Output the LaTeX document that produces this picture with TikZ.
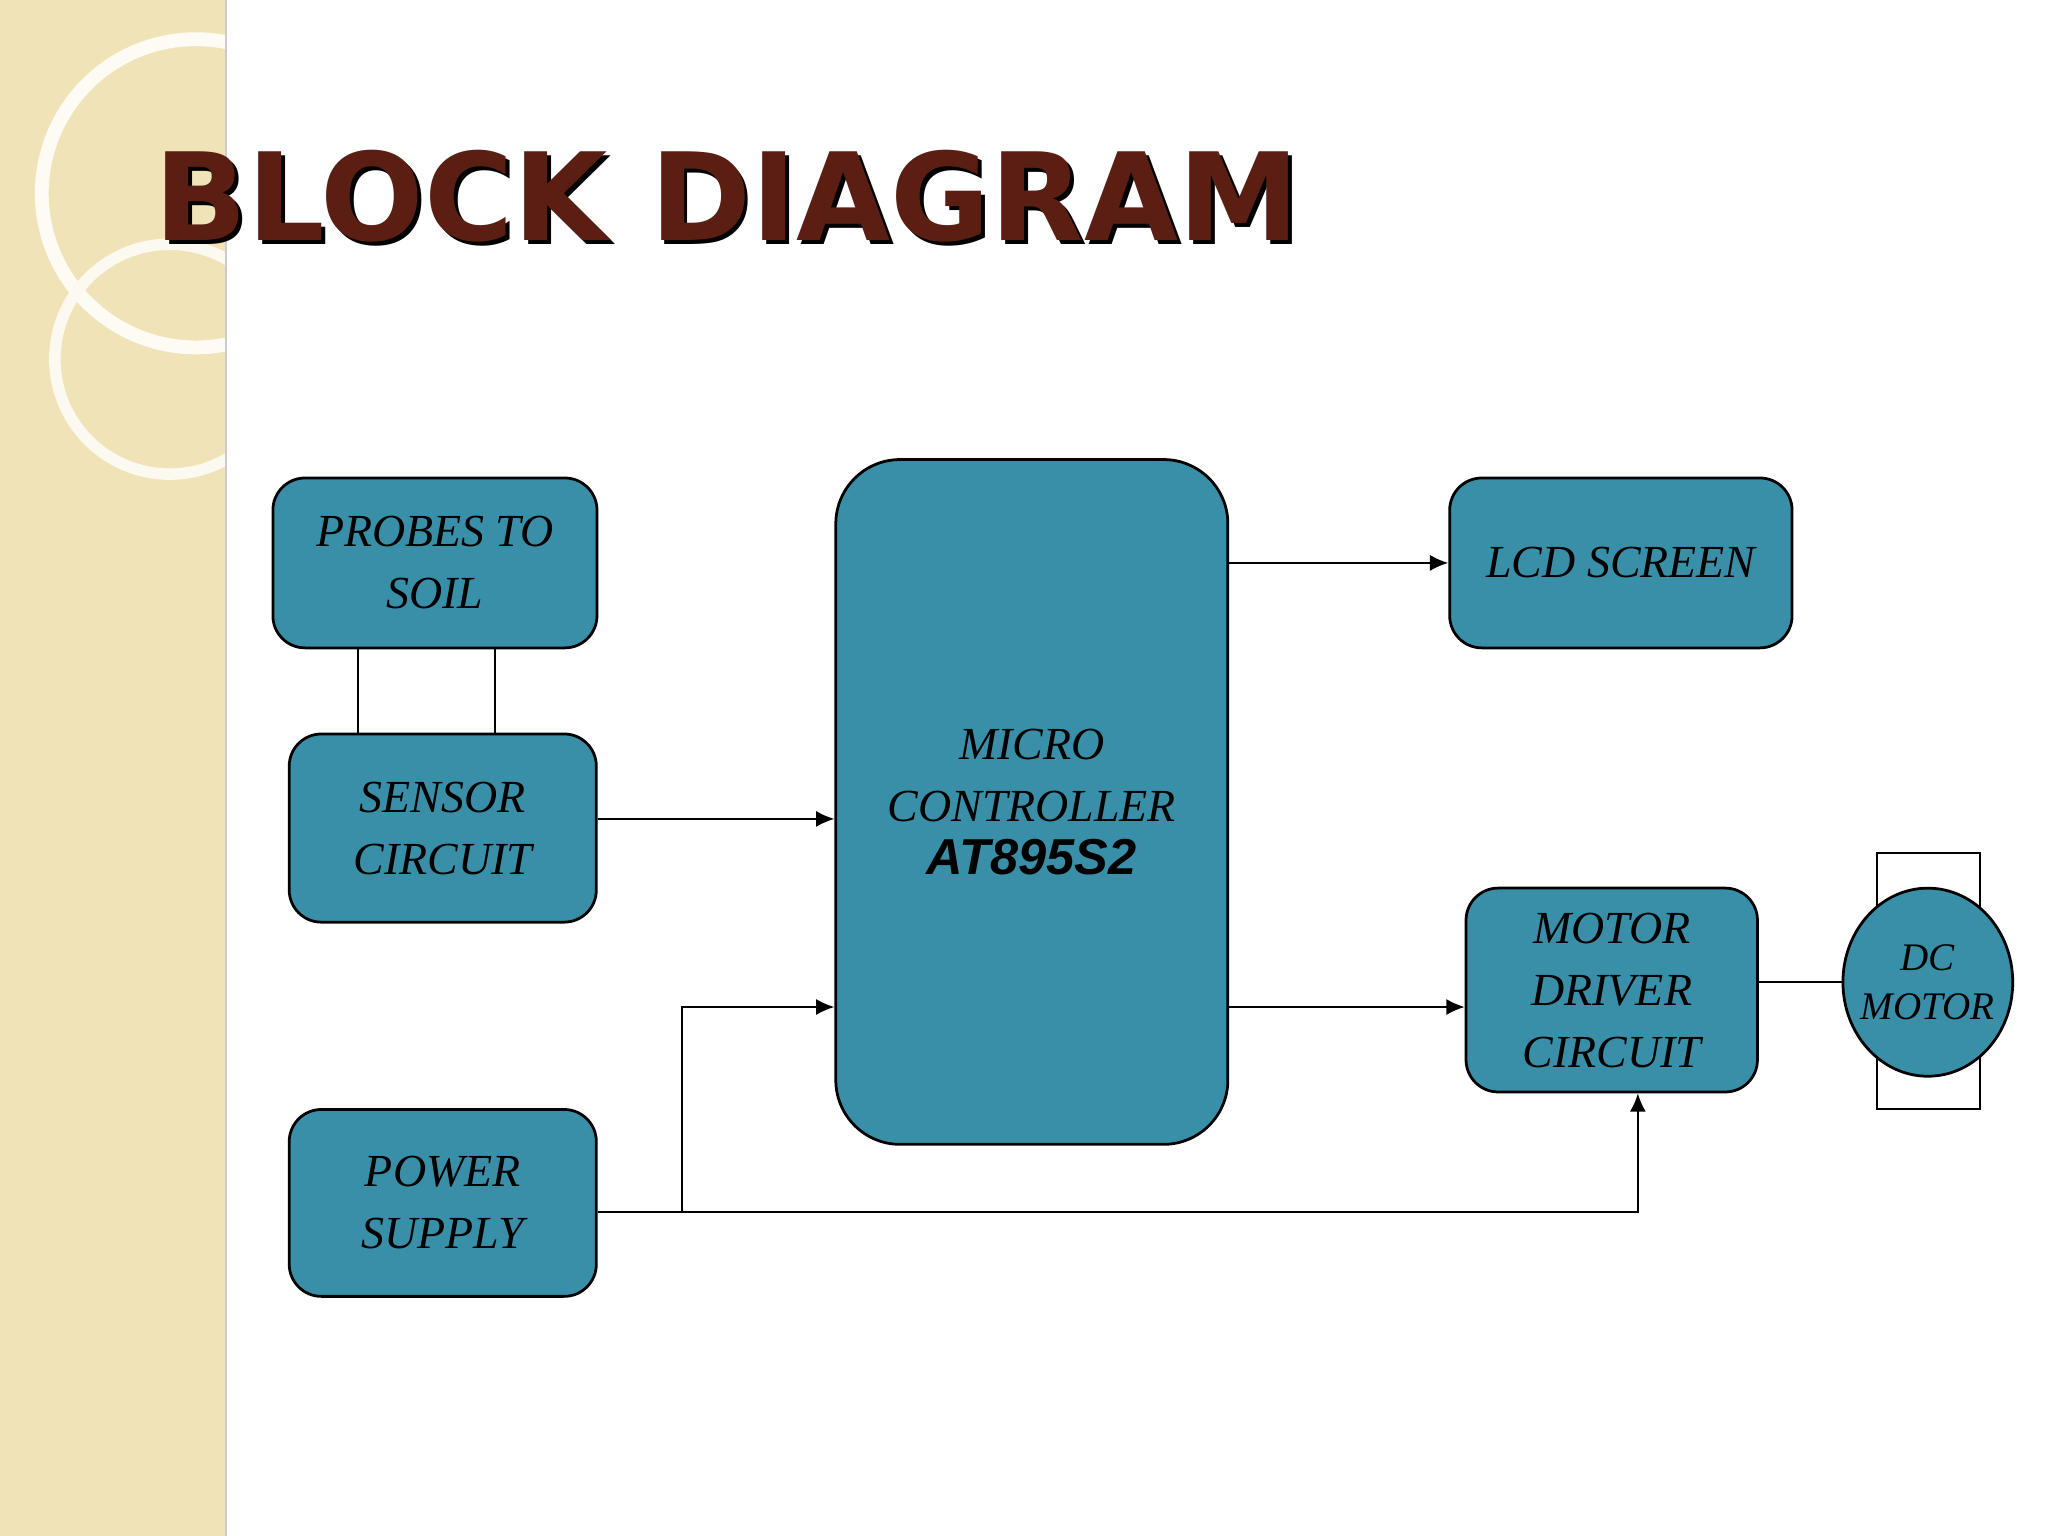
\documentclass[tikz,border=0pt]{standalone}
\usepackage{fontspec}
\setmainfont{Liberation Serif}
\newfontfamily\titlefont{DejaVu Sans}
\newfontfamily\armfont{Liberation Sans}
\usetikzlibrary{arrows.meta}
\usetikzlibrary{positioning}
\usetikzlibrary{shapes.geometric}

\definecolor{blockblue}{HTML}{3A8FA8}
\definecolor{titlebrown}{HTML}{5A1E12}
\definecolor{stripbeige}{HTML}{F1E3B8}

\tikzset{
    block/.style = {draw, semithick, fill = blockblue, rounded corners = 7pt,
                    align = center, font = \itshape\fontsize{10}{13.5}\selectfont},
    link/.style = {thin},
    feed/.style = {thin, -{Latex[length=4pt, width=3.5pt]}}
}

\begin{document}
\begin{tikzpicture}[x = 0.01cm, y = -0.01cm]
    \useasboundingbox (0,0) rectangle (1568,1176);
    % background and side strip
    \fill[white] (0,0) rectangle (1568,1176);
    \fill[stripbeige] (0,0) rectangle (173,1176);
    \begin{scope}
        \clip (0,0) rectangle (173,1176);
        \draw[line width = 3pt, white!85!stripbeige] (150,148) circle (118);
        \draw[line width = 2.5pt, white!80!stripbeige] (130,275) circle (88);
    \end{scope}
    \draw[gray!40, thin] (173,0) -- (173,1176);

    % title
    \node[font = \titlefont\bfseries\fontsize{26.5}{30}\selectfont, black, anchor = west]
        at (109,153) {BLOCK DIAGRAM};
    \node[font = \titlefont\bfseries\fontsize{26.5}{30}\selectfont, titlebrown, anchor = west]
        (title) at (106,150) {BLOCK DIAGRAM};

    % blocks
    \node[block, minimum width = 2.48cm, minimum height = 1.30cm] (probes) at (333,431) {PROBES TO\\SOIL};
    \node[block, minimum width = 2.35cm, minimum height = 1.44cm] (sensor) at (339,634) {SENSOR\\CIRCUIT};
    \node[block, minimum width = 2.35cm, minimum height = 1.43cm] (power) at (339,921) {POWER\\SUPPLY};
    \node[block, rounded corners = 14pt, minimum width = 3.00cm, minimum height = 5.24cm] (mcu) at (790,614)
        {MICRO\\CONTROLLER\\[-2pt]{\armfont\bfseries\itshape\fontsize{11}{13}\selectfont AT895S2}};
    \node[block, minimum width = 2.62cm, minimum height = 1.30cm] (lcd) at (1241,431) {LCD SCREEN};
    \node[block, minimum width = 2.23cm, minimum height = 1.56cm] (driver) at (1234,758) {MOTOR\\DRIVER\\CIRCUIT};

    % dc motor
    \draw[thin] (1437,653) rectangle (1516,849);
    \draw[semithick, fill = blockblue] (1476,752) ellipse (65 and 72);
    \node[align = center, font = \itshape\fontsize{8.5}{10.5}\selectfont, inner sep = 0pt,
          minimum width = 1.30cm] (motor) at (1476,752) {DC\\MOTOR};

    % connections
    \draw[link] (274,496) -- (274,562);
    \draw[link] (379,496) -- (379,562);
    \draw[feed] (sensor.east |- 0,627) -- (mcu.west |- 0,627);
    \draw[feed] (mcu.east |- lcd) -- (lcd.west);
    \draw[feed] (mcu.east |- 0,771) -- (driver.west |- 0,771);
    \draw[link] (driver.east |- motor) -- (motor.west);
    \coordinate (split) at (522,928);
    \draw[link] (power.east |- split) -- (split);
    \draw[feed] (split) -- (522,771) -- (mcu.west |- 0,771);
    \draw[feed] (split) -- (1254,928) -- (driver.south -| 1254,0);
\end{tikzpicture}
\end{document}
